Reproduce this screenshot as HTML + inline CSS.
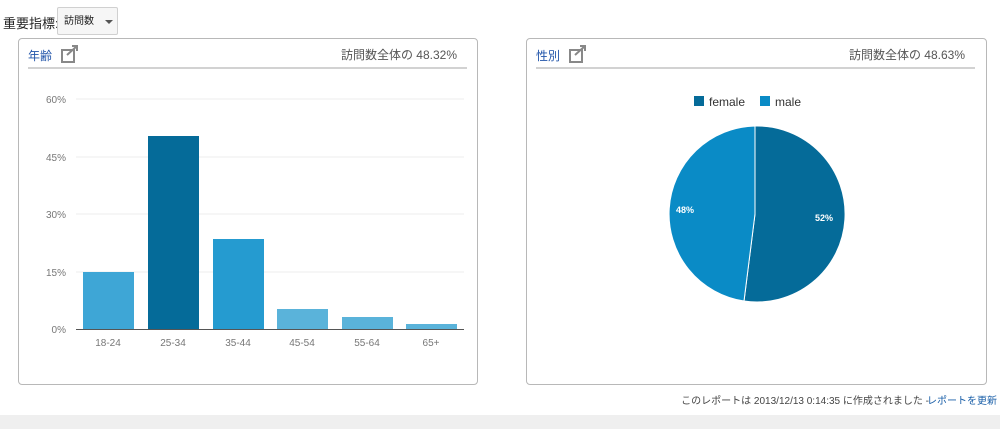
<!DOCTYPE html>
<html><head><meta charset="utf-8"><style>
body{margin:0;width:1000px;height:429px;background:#fff;position:relative;overflow:hidden;font-family:"Liberation Sans","Noto Sans CJK JP",sans-serif}
.p{position:absolute;border:1px solid #b8b8b8;border-radius:4px;background:#fff}
.t{position:absolute;font-size:12px}
</style></head><body>
<div class="t" style="left:3px;top:13px;font-size:13px;color:#222">重要指標:</div>
<div style="position:absolute;left:57px;top:7px;width:61px;height:28px;border:1px solid #d0d0d0;border-radius:2px;background:#f6f6f6;font-size:10px;line-height:28px;padding-left:6px;box-sizing:border-box;color:#222">訪問数<span style="position:absolute;left:47px;top:12px;border:4px solid transparent;border-top:4px solid #555"></span></div>
<div style="position:absolute;left:0;top:415px;width:1000px;height:14px;background:#efefef"></div>

<div class="p" style="left:18px;top:38px;width:458px;height:345px"></div>
<div class="p" style="left:526px;top:38px;width:459px;height:345px"></div>

<svg width="1000" height="429" style="position:absolute;left:0;top:0" font-family="Liberation Sans, Noto Sans CJK JP, sans-serif">
<text x="28" y="60" font-size="12" fill="#2255aa">年齢</text>
<rect x="62" y="50" width="12" height="12" fill="none" stroke="#888" stroke-width="2"/><path d="M67 55 L77 46 M72 46 L77 46 L77 51" stroke="#888" stroke-width="2" fill="none"/>
<text x="457" y="59" font-size="12" fill="#555" text-anchor="end">訪問数全体の 48.32%</text>
<line x1="28" y1="68" x2="467" y2="68" stroke="#c4c4c4" stroke-width="1.5"/>
<text x="536" y="60" font-size="12" fill="#2255aa">性別</text>
<rect x="570" y="50" width="12" height="12" fill="none" stroke="#888" stroke-width="2"/><path d="M575 55 L585 46 M580 46 L585 46 L585 51" stroke="#888" stroke-width="2" fill="none"/>
<text x="965" y="59" font-size="12" fill="#555" text-anchor="end">訪問数全体の 48.63%</text>
<line x1="536" y1="68" x2="975" y2="68" stroke="#c4c4c4" stroke-width="1.5"/>

<g font-size="10" fill="#777" text-anchor="end">
<line x1="76" y1="99" x2="464" y2="99" stroke="#eee"/><text x="66" y="103">60%</text>
<line x1="76" y1="157" x2="464" y2="157" stroke="#eee"/><text x="66" y="161">45%</text>
<line x1="76" y1="214" x2="464" y2="214" stroke="#eee"/><text x="66" y="218">30%</text>
<line x1="76" y1="272" x2="464" y2="272" stroke="#eee"/><text x="66" y="276">15%</text>
<text x="66" y="333">0%</text>
</g>
<rect x="83" y="272" width="51" height="57" fill="#3ea6d6"/>
<rect x="148" y="136" width="51" height="193" fill="#056b99"/>
<rect x="213" y="239" width="51" height="90" fill="#259bd0"/>
<rect x="277" y="309" width="51" height="20" fill="#5ab3da"/>
<rect x="342" y="317" width="51" height="12" fill="#5ab3da"/>
<rect x="406" y="324" width="51" height="5" fill="#5ab3da"/>
<line x1="76" y1="329.5" x2="464" y2="329.5" stroke="#555"/>
<g font-size="10" fill="#777" text-anchor="middle">
<text x="108" y="346">18-24</text><text x="173" y="346">25-34</text><text x="238" y="346">35-44</text>
<text x="302" y="346">45-54</text><text x="367" y="346">55-64</text><text x="431" y="346">65+</text>
</g>

<rect x="694" y="96" width="10" height="10" fill="#056b99"/><text x="709" y="106" font-size="12" fill="#333">female</text>
<rect x="760" y="96" width="10" height="10" fill="#0a8bc6"/><text x="775" y="106" font-size="12" fill="#333">male</text>
<path d="M755 214 L755 126 A88 88 0 1 1 744 301 Z" fill="#056b99" stroke="#fff" stroke-width="1"/>
<path d="M755 214 L744 301 A88 88 0 0 1 755 126 Z" fill="#0a8bc6" stroke="#fff" stroke-width="1"/>
<text x="815" y="221" font-size="9" fill="#fff" font-weight="bold">52%</text>
<text x="676" y="213" font-size="9" fill="#fff" font-weight="bold">48%</text>

<text x="929" y="404" font-size="10" fill="#444" text-anchor="end">このレポートは 2013/12/13 0:14:35 に作成されました - </text>
<text x="997" y="404" font-size="10" fill="#1a5fa8" text-anchor="end">レポートを更新</text>
</svg>
</body></html>
